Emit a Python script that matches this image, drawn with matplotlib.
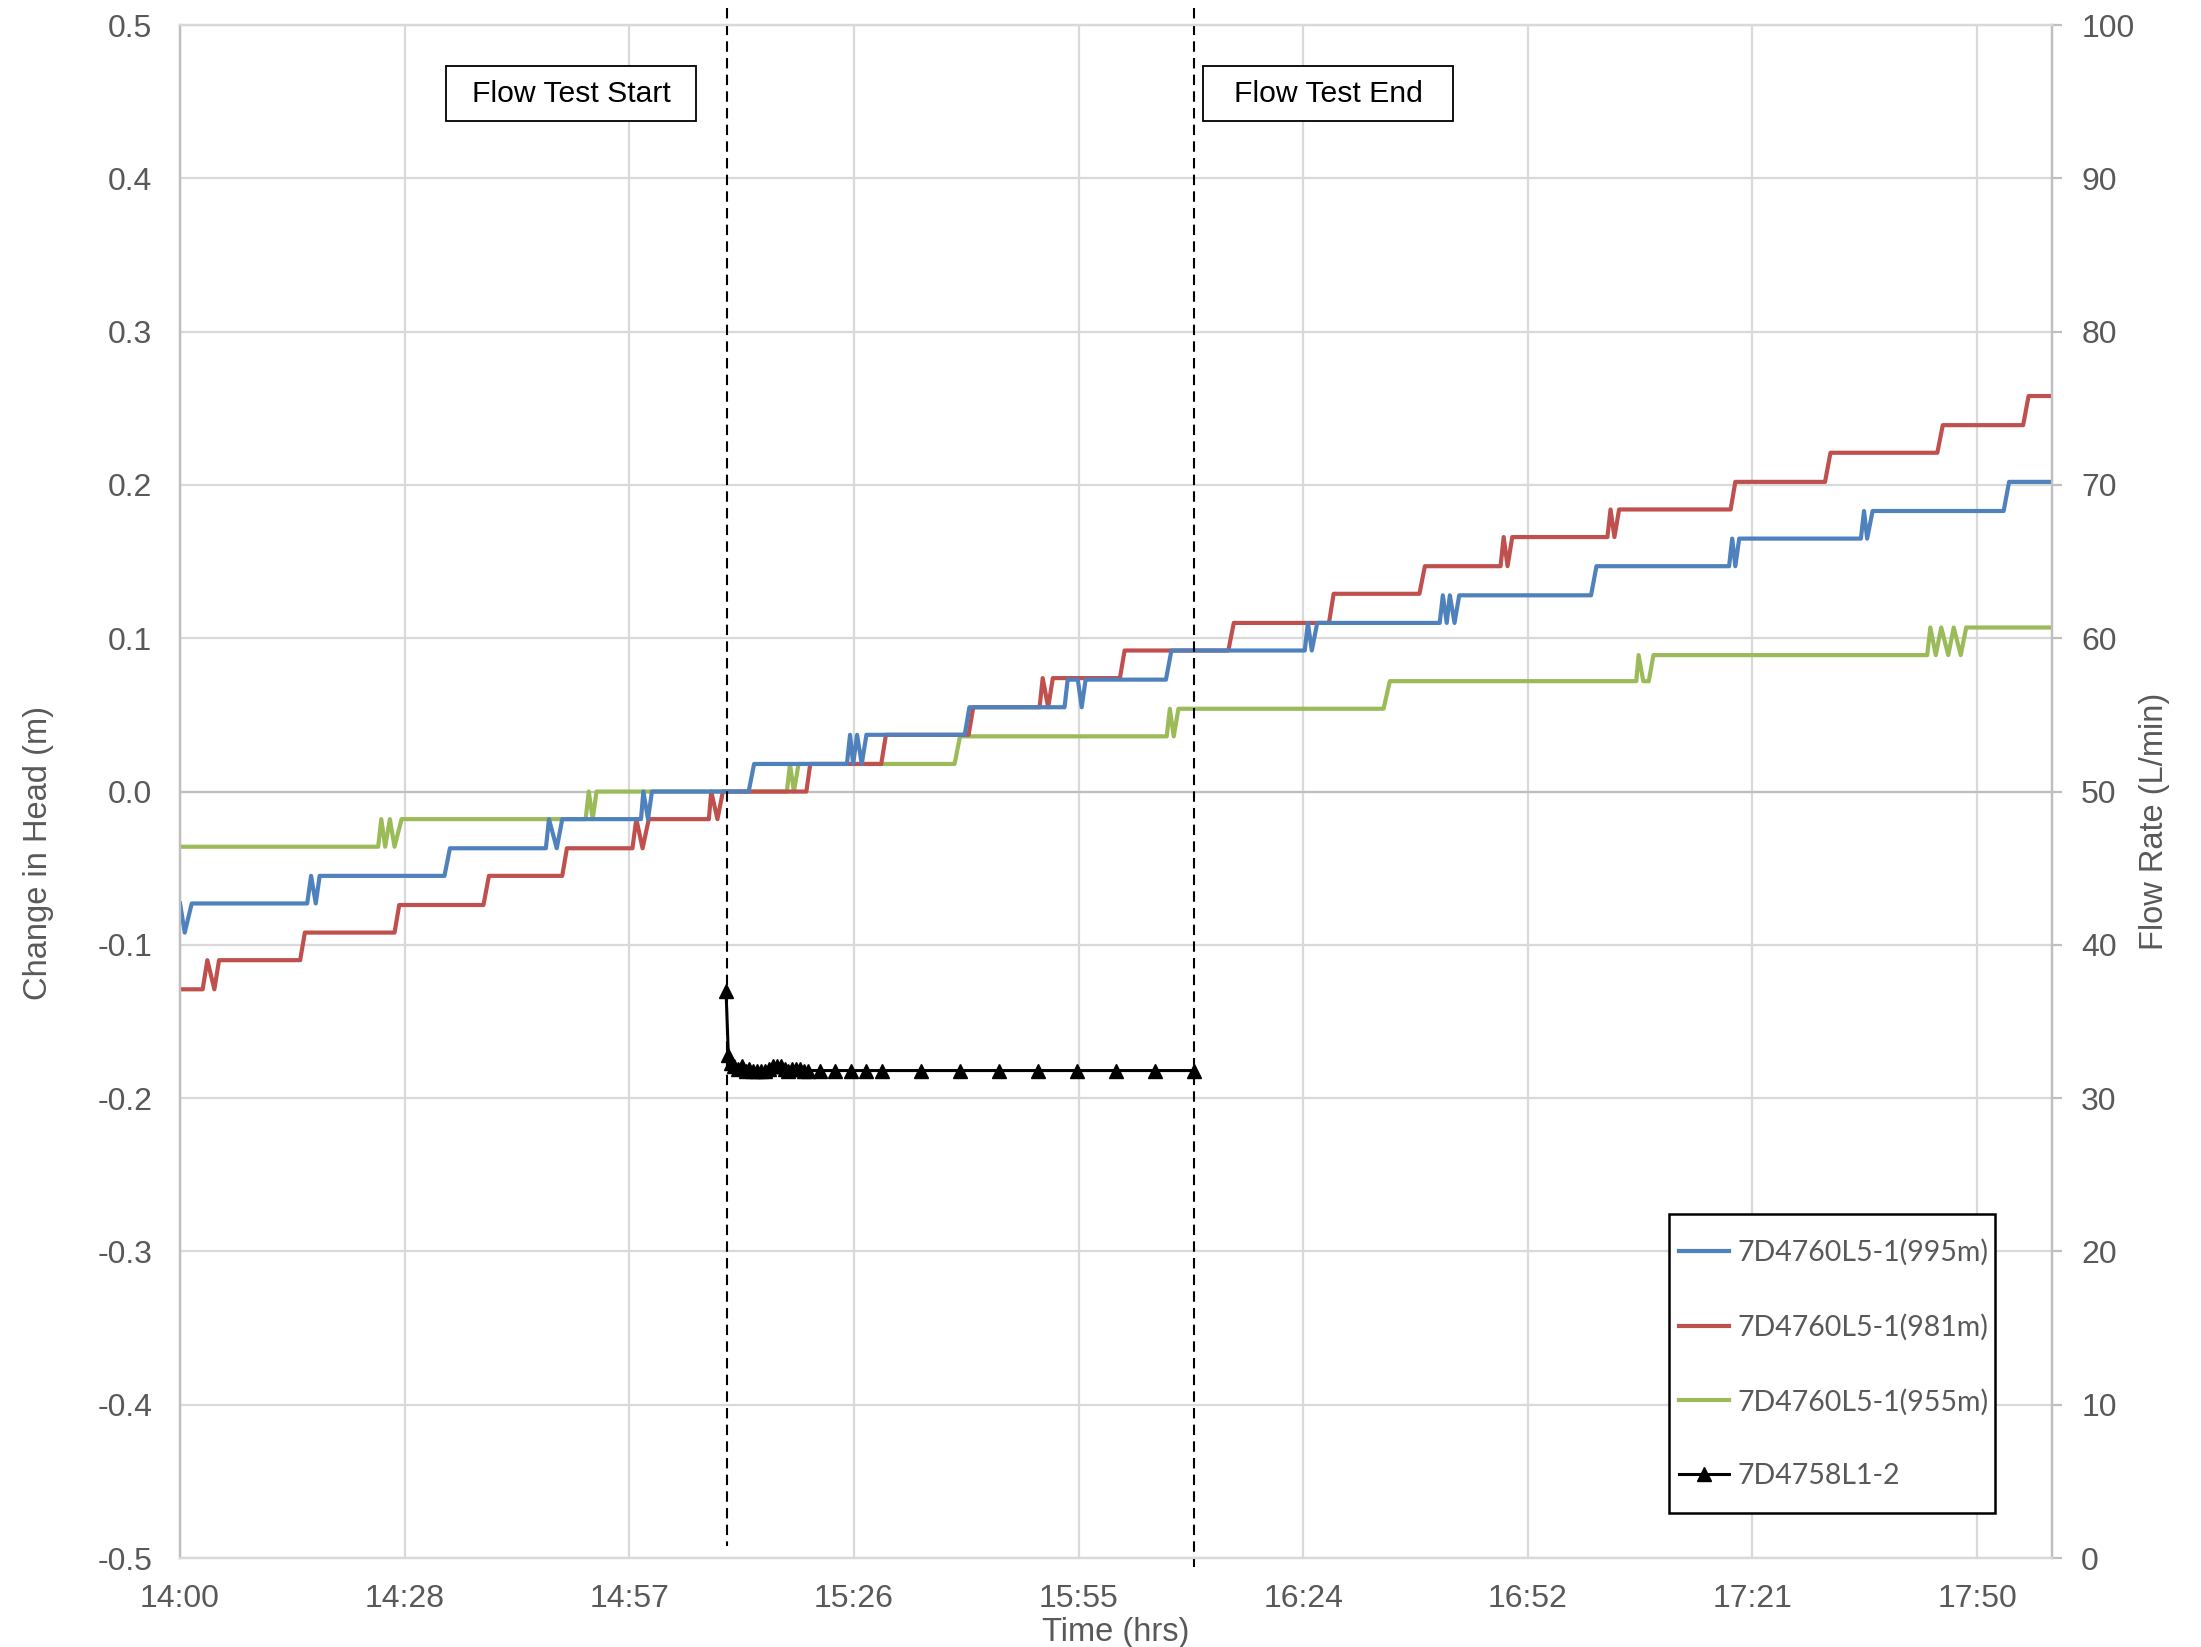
import numpy as np
import matplotlib
matplotlib.use('Agg')
import matplotlib.pyplot as plt
from matplotlib.patches import Rectangle

# 时间单位: 自 14:00 起的分钟数
x_tick_labels = ['14:00', '14:28', '14:57', '15:26', '15:55', '16:24', '16:52', '17:21', '17:50']

# 7D4760L5-1(995m)
t_995 = [0, 0.6, 1.5,
         16.3, 16.8, 17.4, 17.9,
         33.9, 34.6,
         46.9, 47.3, 48.3, 49.0,
         59.1, 59.4, 60.0, 60.5,
         72.9, 73.6,
         85.5, 85.9, 86.3, 86.8, 87.4, 88.0,
         100.6, 101.2,
         113.4, 113.8, 115.1, 115.6, 116.1,
         126.4, 127.1,
         144.2, 144.6, 145.1, 145.8,
         161.5, 161.9, 162.4, 162.8, 163.4, 164.0,
         180.9, 181.6,
         198.6, 199.0, 199.4, 199.9,
         215.5, 215.9, 216.3, 217.0,
         233.8, 234.5,
         240]
h_995 = [-0.073, -0.092, -0.073,
         -0.073, -0.055, -0.073, -0.055,
         -0.055, -0.037,
         -0.037, -0.018, -0.037, -0.018,
         -0.018, 0.0, -0.018, 0.0,
         0.0, 0.018,
         0.018, 0.037, 0.018, 0.037, 0.018, 0.037,
         0.037, 0.055,
         0.055, 0.073, 0.073, 0.055, 0.073,
         0.073, 0.092,
         0.092, 0.110, 0.092, 0.110,
         0.110, 0.128, 0.110, 0.128, 0.110, 0.128,
         0.128, 0.147,
         0.147, 0.165, 0.147, 0.165,
         0.165, 0.183, 0.165, 0.183,
         0.183, 0.202,
         0.202]

# 7D4760L5-1(981m)
t_981 = [0, 2.9, 3.5, 4.4, 5.0,
         15.4, 16.0,
         27.5, 28.1,
         38.9, 39.6,
         49.0, 49.6,
         58.0, 58.5, 59.3, 60.1,
         67.8, 68.1, 68.9, 69.6,
         80.3, 80.8,
         89.9, 90.5,
         101.1, 101.7,
         110.2, 110.6, 111.3, 111.9,
         120.5, 121.1,
         134.4, 135.1,
         147.3, 147.9,
         158.9, 159.6,
         169.3, 169.7, 170.2, 170.8,
         183.0, 183.4, 183.9, 184.5,
         198.8, 199.4,
         210.9, 211.6,
         225.3, 226.0,
         236.3, 237.0,
         240]
h_981 = [-0.129, -0.129, -0.110, -0.129, -0.110,
         -0.110, -0.092,
         -0.092, -0.074,
         -0.074, -0.055,
         -0.055, -0.037,
         -0.037, -0.018, -0.037, -0.018,
         -0.018, 0.0, -0.018, 0.0,
         0.0, 0.018,
         0.018, 0.037,
         0.037, 0.055,
         0.055, 0.074, 0.055, 0.074,
         0.074, 0.092,
         0.092, 0.110,
         0.110, 0.129,
         0.129, 0.147,
         0.147, 0.166, 0.147, 0.166,
         0.166, 0.184, 0.166, 0.184,
         0.184, 0.202,
         0.202, 0.221,
         0.221, 0.239,
         0.239, 0.258,
         0.258]

# 7D4760L5-1(955m)
t_955 = [0, 25.4, 25.8, 26.3, 26.9, 27.5, 28.4,
         52.0, 52.4, 52.9, 53.4,
         77.8, 78.2, 78.7, 79.3,
         99.3, 100.0,
         126.5, 126.9, 127.4, 128.0,
         154.3, 155.1,
         186.7, 187.0, 187.6, 188.3, 188.9,
         224.0, 224.4, 225.1, 225.8, 226.7, 227.4, 228.3, 229.0,
         240]
h_955 = [-0.036, -0.036, -0.018, -0.036, -0.018, -0.036, -0.018,
         -0.018, 0.0, -0.018, 0.0,
         0.0, 0.018, 0.0, 0.018,
         0.018, 0.036,
         0.036, 0.054, 0.036, 0.054,
         0.054, 0.072,
         0.072, 0.089, 0.072, 0.072, 0.089,
         0.089, 0.107, 0.089, 0.107, 0.089, 0.107, 0.089, 0.107,
         0.107]

# 7D4758L1-2 流量 (L/min)
t_flow = [70.0, 70.3, 70.6, 71.0, 71.5, 72.0, 72.5, 73.0, 73.5, 74.0, 74.5,
          75.0, 75.5, 76.0, 76.5, 77.0, 77.5, 78.0, 78.5, 79.0, 79.5, 80.0, 80.5,
          82.0, 84.0, 86.0, 88.0, 90.0, 95.0, 100.0, 105.0, 110.0, 115.0,
          120.0, 125.0, 130.0]
q_flow = [37.0, 32.8, 32.3, 32.1, 31.9, 32.1, 31.8, 31.9, 31.8, 31.8, 31.8,
          31.8, 31.9, 32.1, 32.1, 32.1, 31.9, 31.8, 31.9, 31.9, 31.9, 31.8, 31.8,
          31.8, 31.8, 31.8, 31.8, 31.8, 31.8, 31.8, 31.8, 31.8, 31.8,
          31.8, 31.8, 31.8]

test_start, test_end = 70.1, 130.0

txt = '#595959'
grid_c = '#d9d9d9'
axis_c = '#bfbfbf'
plt.rcParams['font.family'] = ['Liberation Sans', 'DejaVu Sans']

fig = plt.figure(figsize=(22.01, 16.47), dpi=100)
ax = fig.add_axes([0.0818, 0.054, 0.8505, 0.9308])
ax2 = ax.twinx()

l1, = ax.plot(t_995, h_995, color='#4f81bd', lw=3.0, label='7D4760L5-1(995m)', zorder=5)
l2, = ax.plot(t_981, h_981, color='#c0504d', lw=3.0, label='7D4760L5-1(981m)', zorder=4)
l3, = ax.plot(t_955, h_955, color='#9bbb59', lw=3.0, label='7D4760L5-1(955m)', zorder=3)
l4, = ax2.plot(t_flow, q_flow, color='black', lw=2.2, marker='^', markersize=10,
               label='7D4758L1-2')

ax.set_xlim(0, 240)
ax.set_ylim(-0.5, 0.5)
ax2.set_ylim(0, 100)

ax.set_xticks(np.arange(len(x_tick_labels)) * 28.8)
ax.set_xticklabels(x_tick_labels)
ax.set_yticks(np.arange(-5, 6) / 10)
ax.set_yticklabels(['%.1f' % v for v in np.arange(-5, 6) / 10])
ax2.set_yticks(np.arange(0, 101, 10))

ax.grid(True, color=grid_c, lw=1.6)
ax.set_axisbelow(True)
ax.axhline(0, color=axis_c, lw=1.6, zorder=1)

ax.tick_params(axis='x', length=0, pad=19, labelsize=23, labelcolor=txt)
ax.tick_params(axis='y', length=0, pad=20, labelsize=23, labelcolor=txt)
ax2.tick_params(axis='y', length=7, width=1.6, color=axis_c, pad=14, labelsize=23, labelcolor=txt)

for a in (ax, ax2):
    a.spines['top'].set_color(grid_c)
    a.spines['bottom'].set_color(grid_c)
    a.spines['left'].set_color(axis_c)
    a.spines['right'].set_color(axis_c)
    for s in a.spines.values():
        s.set_linewidth(1.6)

# 流量测试起止虚线
for t_line, y_low in ((test_start, -0.492), (test_end, -0.506)):
    ax.plot([t_line, t_line], [0.511, y_low], color='black', lw=1.5,
            dashes=(5, 3), clip_on=False, zorder=6)

# 文本框
for x0, label in ((446, 'Flow Test Start'), (1203, 'Flow Test End')):
    fig.patches.append(Rectangle((x0 / 2201, 1 - 121 / 1647), 250 / 2201, 55 / 1647,
                                 transform=fig.transFigure, fill=True, facecolor='white',
                                 edgecolor='black', lw=1.3, zorder=10))
    fig.text((x0 + 125) / 2201, 1 - 94 / 1647, label, ha='center', va='center',
             fontsize=21.7, color='black', zorder=11)

fig.text(39 / 2201, 1 - 853 / 1647, 'Change in Head (m)', rotation=90,
         ha='center', va='center', fontsize=23.5, color=txt)
fig.text(2155 / 2201, 1 - 821 / 1647, 'Flow Rate (L/min)', rotation=90,
         ha='center', va='center', fontsize=23.5, color=txt)
fig.text(1116 / 2201, 1 - 1633 / 1647, 'Time (hrs)', ha='center', va='center',
         fontsize=23.5, color=txt)

# 图例
fig.patches.append(Rectangle((1669 / 2201, 1 - 1513 / 1647), 326 / 2201, 299 / 1647,
                             transform=fig.transFigure, facecolor='white',
                             edgecolor='black', lw=1.8, zorder=10))
leg = fig.legend(handles=[l1, l2, l3, l4], loc='upper left',
                 bbox_to_anchor=(1679 / 2201, 1 - 1239 / 1647),
                 frameon=False, borderpad=0, borderaxespad=0, handlelength=1.75,
                 handletextpad=0.3, labelspacing=1.68, numpoints=1,
                 prop={'family': 'Lato', 'size': 20.5})
leg.set_zorder(12)
for t in leg.get_texts():
    t.set_color(txt)

fig.savefig('out.png', dpi=100)
